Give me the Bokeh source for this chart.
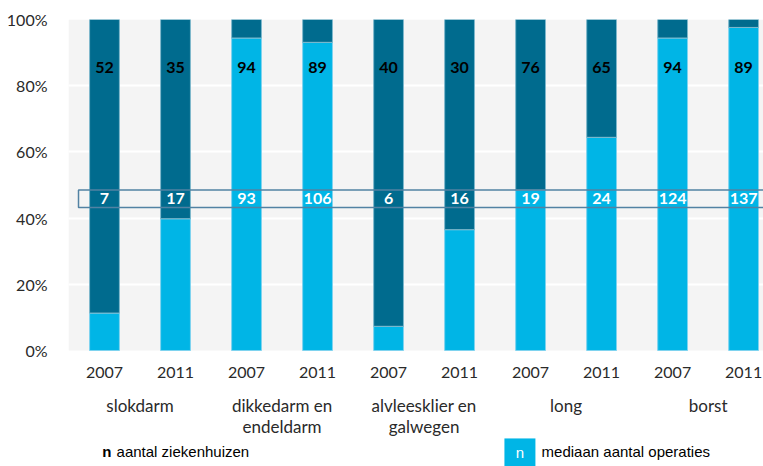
from bokeh.plotting import figure
from bokeh.models import ColumnDataSource, Range1d, FixedTicker, BoxAnnotation
from bokeh.embed import file_html
from bokeh.resources import INLINE
from bokeh.core.properties import value

# ---- data ----
groups = ["slokdarm", "dikkedarm en\nendeldarm", "alvleesklier en\ngalwegen", "long", "borst"]
years = ["2007", "2011", "2007", "2011", "2007", "2011", "2007", "2011", "2007", "2011"]
share_median = [11.3, 39.8, 94.4, 93.1, 7.3, 36.5, 48.5, 64.4, 94.4, 97.6]
hospitals = [52, 35, 94, 89, 40, 30, 76, 65, 94, 89]
median_ops = [7, 17, 93, 106, 6, 16, 19, 24, 124, 137]
y_ticks = [0, 20, 40, 60, 80, 100]
legend_labels = ["aantal ziekenhuizen", "mediaan aantal operaties"]

LIGHT = "#00B5E6"
DARK = "#006B8E"
FONT = "Lato"
TXT = "#2a2a2a"

xs = list(range(1, len(years) + 1))
n = len(xs)
src = ColumnDataSource(dict(
    x=xs, light=share_median, full=[100] * n,
    hosp=[str(v) for v in hospitals], ops=[str(v) for v in median_ops],
    ytop=[85.5] * n, ybox=[45.8] * n, year=years, yyear=[-6.75] * n,
))

gx, gy, gt = [], [], []
for gi, name in enumerate(groups):
    cx = (xs[2 * gi] + xs[2 * gi + 1]) / 2
    for li, line in enumerate(name.split("\n")):
        gx.append(cx)
        gy.append(-16.6 - 6.4 * li)
        gt.append(line)
gsrc = ColumnDataSource(dict(x=gx, y=gy, t=gt))

p = figure(width=763, height=466, output_backend="svg", toolbar_location=None,
           x_range=Range1d(0.493, 10.28), y_range=Range1d(-35.05, 100),
           min_border_left=68, min_border_right=0, min_border_top=19, min_border_bottom=0)
p.background_fill_color = "white"
p.border_fill_color = "white"
p.outline_line_color = None

# plot-area background (0..100%)
p.add_layout(BoxAnnotation(bottom=0, top=100, fill_color="#F4F4F4", fill_alpha=1,
                           line_alpha=0, level="image"))

# grid
p.xgrid.visible = False
p.ygrid.ticker = FixedTicker(ticks=y_ticks[1:-1])
p.ygrid.grid_line_color = "white"
p.ygrid.grid_line_width = 2

# bars
p.vbar(x="x", bottom=0, top="light", width=0.42, source=src, fill_color=LIGHT,
       line_color="#7FD3EF", line_width=1)
p.vbar(x="x", bottom="light", top="full", width=0.42, source=src, fill_color=DARK,
       line_color="#7FB8CC", line_width=1)

# box around median numbers
p.add_layout(BoxAnnotation(left=0.634, right=10.6, bottom=43.2, top=48.5,
                           fill_alpha=0, line_color="#5282A3", line_alpha=1,
                           line_width=1.5, level="overlay"))

p.text(x="x", y="ytop", text="hosp", source=src, text_align="center",
       text_baseline="middle", text_font=value(FONT), text_font_style="bold",
       text_font_size="16px", text_color="black")
p.text(x="x", y="ybox", text="ops", source=src, text_align="center",
       text_baseline="middle", text_font=value(FONT), text_font_style="bold",
       text_font_size="16px", text_color="white")

# year labels and group names
p.text(x="x", y="yyear", text="year", source=src, text_align="center",
       text_baseline="middle", text_font=value(FONT), text_font_size="16px",
       text_color=TXT)
p.text(x="x", y="y", text="t", source=gsrc, text_align="center",
       text_baseline="middle", text_font=value(FONT), text_font_size="17px",
       text_color=TXT)

# legend
p.text(x=[0.97], y=[-30.5], text=["n"], text_align="left", text_baseline="middle",
       text_font=value("Liberation Sans"), text_font_style="bold",
       text_font_size="15px", text_color="black")
p.text(x=[1.17], y=[-30.5], text=[legend_labels[0]], text_align="left",
       text_baseline="middle", text_font=value("Liberation Sans"),
       text_font_size="15px", text_color="black")
p.rect(x=[6.85], y=[-30.8], width=31, height=28, width_units="screen",
       height_units="screen", fill_color=LIGHT, line_color=None)
p.text(x=[6.85], y=[-30.8], text=["n"], text_align="center", text_baseline="middle",
       text_font=value("Liberation Sans"), text_font_size="15px", text_color="white")
p.text(x=[7.155], y=[-30.5], text=[legend_labels[1]], text_align="left",
       text_baseline="middle", text_font=value("Liberation Sans"),
       text_font_size="15px", text_color="black")

# axes
p.xaxis.visible = False
p.yaxis.ticker = FixedTicker(ticks=y_ticks)
p.yaxis.major_label_overrides = {t: f"{t}%" for t in y_ticks}
p.yaxis.axis_line_color = None
p.yaxis.major_tick_line_color = None
p.yaxis.minor_tick_line_color = None
p.yaxis.major_label_standoff = 15
p.yaxis.major_label_text_font = FONT
p.yaxis.major_label_text_font_size = "16px"
p.yaxis.major_label_text_color = TXT

open("out.html", "w").write(file_html(p, INLINE))
